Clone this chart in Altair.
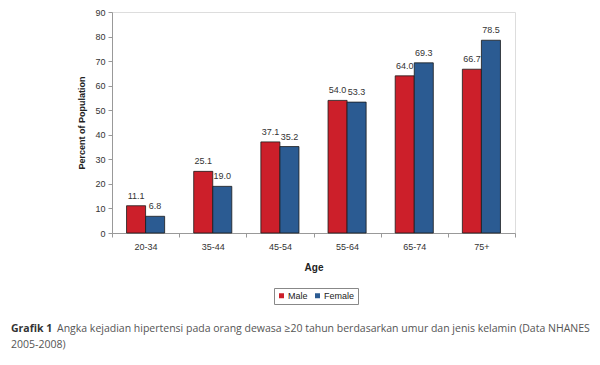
import altair as alt
import pandas as pd

ages = ["20-34", "35-44", "45-54", "55-64", "65-74", "75+"]
male = [11.1, 25.1, 37.1, 54.0, 64.0, 66.7]
female = [6.8, 19.0, 35.2, 53.3, 69.3, 78.5]
sexes = ["Male", "Female"]
y_ticks = [0, 10, 20, 30, 40, 50, 60, 70, 80, 90]
caption_bold = "Grafik 1"
caption_1 = "Angka kejadian hipertensi pada orang dewasa \u226520 tahun berdasarkan umur dan jenis kelamin (Data NHANES"
caption_2 = "2005-2008)"

rows = []
for a, m, f in zip(ages, male, female):
    rows.append({"Age": a, "Sex": "Male", "Value": m})
    rows.append({"Age": a, "Sex": "Female", "Value": f})
df = pd.DataFrame(rows)

FONT = "Liberation Sans"

x = alt.X("Age:N", sort=ages, title="Age",
          scale=alt.Scale(paddingInner=0, paddingOuter=0),
          axis=alt.Axis(labelAngle=0, tickBand="extent", labelFontSize=9,
                        labelColor="#333", titleFontSize=10, titleFontWeight="bold",
                        titleColor="#222", labelPadding=5, titlePadding=11,
                        domainColor="#999", tickColor="#999", tickSize=4,
                        labelFont=FONT, titleFont=FONT))
xo = alt.XOffset("Sex:N", sort=sexes,
                 scale=alt.Scale(paddingInner=0, paddingOuter=0.763))
y = alt.Y("Value:Q", title="Percent of Population",
          scale=alt.Scale(domain=[0, 90], nice=False),
          axis=alt.Axis(values=y_ticks, grid=False, labelFontSize=9,
                        labelColor="#333", titleFontSize=9, titleFontWeight="bold",
                        titleColor="#222", labelPadding=3, titlePadding=8,
                        domainColor="#999", tickColor="#999", tickSize=4,
                        labelFont=FONT, titleFont=FONT))
color = alt.Color("Sex:N", sort=sexes,
                  scale=alt.Scale(domain=sexes, range=["#cc1f2a", "#2b5b92"]),
                  legend=alt.Legend(title=None, orient="none", direction="horizontal",
                                    legendX=162, legendY=276, strokeColor="#888",
                                    padding=3, symbolType="square", symbolSize=25,
                                    symbolStrokeWidth=0, labelFontSize=9,
                                    labelFont=FONT, labelColor="#222",
                                    columnPadding=5, labelOffset=2))

bars = alt.Chart(df).mark_bar(stroke="#1a1a1a", strokeWidth=0.8).encode(
    x=x, xOffset=xo, y=y, color=color)

labels = alt.Chart(df).mark_text(baseline="bottom", dy=-5, fontSize=9,
                                 font=FONT, color="#333").encode(
    x=x, xOffset=xo, y=y, text=alt.Text("Value:Q", format=".1f"))

cap_df = pd.DataFrame({"t": [caption_bold]})
cap_bold = alt.Chart(cap_df).mark_text(align="left", baseline="middle", fontSize=10.5,
                                       font="Open Sans", fontWeight="bold",
                                       color="#333").encode(
    x=alt.value(-101), y=alt.value(317), text="t:N")
cap1 = alt.Chart(pd.DataFrame({"t": [caption_1]})).mark_text(
    align="left", baseline="middle", fontSize=10.5, font="Open Sans",
    color="#555").encode(x=alt.value(-55), y=alt.value(317), text="t:N")
cap2 = alt.Chart(pd.DataFrame({"t": [caption_2]})).mark_text(
    align="left", baseline="middle", fontSize=10.5, font="Open Sans",
    color="#555").encode(x=alt.value(-101), y=alt.value(333), text="t:N")

chart = alt.layer(bars, labels, cap_bold, cap1, cap2).properties(
    width=403, height=221,
    autosize=alt.AutoSizeParams(type="none"),
    padding={"left": 104, "top": 4, "right": 77, "bottom": 120},
).configure_view(stroke="#888", strokeWidth=1).configure(background="white")

chart.save("out.html", embed_options={"renderer": "svg", "actions": False})
